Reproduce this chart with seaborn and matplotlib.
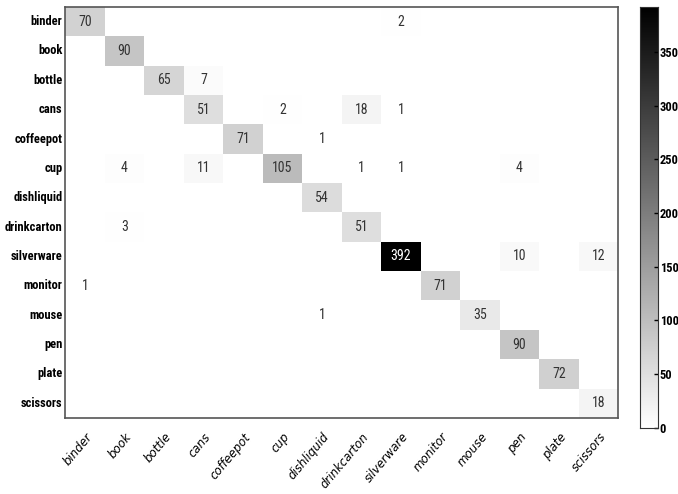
import numpy as np
import pandas as pd
import matplotlib
matplotlib.use("Agg")
import matplotlib.pyplot as plt
from matplotlib import font_manager
import seaborn as sns

classes = ["binder", "book", "bottle", "cans", "coffeepot", "cup", "dishliquid",
           "drinkcarton", "silverware", "monitor", "mouse", "pen", "plate", "scissors"]

# confusion matrix rows (true class), columns (predicted class)
row_binder      = [70, 0, 0, 0, 0, 0, 0, 0, 2, 0, 0, 0, 0, 0]
row_book        = [0, 90, 0, 0, 0, 0, 0, 0, 0, 0, 0, 0, 0, 0]
row_bottle      = [0, 0, 65, 7, 0, 0, 0, 0, 0, 0, 0, 0, 0, 0]
row_cans        = [0, 0, 0, 51, 0, 2, 0, 18, 1, 0, 0, 0, 0, 0]
row_coffeepot   = [0, 0, 0, 0, 71, 0, 1, 0, 0, 0, 0, 0, 0, 0]
row_cup         = [0, 4, 0, 11, 0, 105, 0, 1, 1, 0, 0, 4, 0, 0]
row_dishliquid  = [0, 0, 0, 0, 0, 0, 54, 0, 0, 0, 0, 0, 0, 0]
row_drinkcarton = [0, 3, 0, 0, 0, 0, 0, 51, 0, 0, 0, 0, 0, 0]
row_silverware  = [0, 0, 0, 0, 0, 0, 0, 0, 392, 0, 0, 10, 0, 12]
row_monitor     = [1, 0, 0, 0, 0, 0, 0, 0, 0, 71, 0, 0, 0, 0]
row_mouse       = [0, 0, 0, 0, 0, 0, 1, 0, 0, 0, 35, 0, 0, 0]
row_pen         = [0, 0, 0, 0, 0, 0, 0, 0, 0, 0, 0, 90, 0, 0]
row_plate       = [0, 0, 0, 0, 0, 0, 0, 0, 0, 0, 0, 0, 72, 0]
row_scissors    = [0, 0, 0, 0, 0, 0, 0, 0, 0, 0, 0, 0, 0, 18]

cm = pd.DataFrame([row_binder, row_book, row_bottle, row_cans, row_coffeepot, row_cup,
                   row_dishliquid, row_drinkcarton, row_silverware, row_monitor,
                   row_mouse, row_pen, row_plate, row_scissors],
                  index=classes, columns=classes)

# blank out the zero cells in the annotations
labels = cm.astype(str).where(cm > 0, "")

# pick a condensed font if one is around
installed = {f.name for f in font_manager.fontManager.ttflist}
narrow_font = "Liberation Sans"
for name in ["Liberation Sans Narrow", "Roboto Condensed", "DejaVu Sans Condensed",
             "Open Sans Condensed", "Noto Sans Condensed"]:
    if name in installed:
        narrow_font = name
        break
narrow = [narrow_font, "DejaVu Sans"]

fig = plt.figure(figsize=(6.78, 4.94), dpi=100)
ax = fig.add_axes([0.096, 0.154, 0.816, 0.832])
cax = fig.add_axes([0.944, 0.134, 0.027, 0.852])

sns.heatmap(cm, cmap="gray_r", vmin=0, vmax=392, annot=labels, fmt="",
            annot_kws={"fontsize": 10, "family": narrow, "color": "#333333"},
            ax=ax, cbar_ax=cax, cbar=True)

# white text on the darkest cell
for t in ax.texts:
    if t.get_text() == "392":
        t.set_color("white")

ax.tick_params(length=0)
ax.set_yticklabels(classes, rotation=0, fontsize=9, fontweight="bold", family=narrow)
ax.set_xticklabels(classes, rotation=50, ha="right", rotation_mode="anchor", fontsize=8.5)
for lab in ax.get_xticklabels():
    lab.set_family("DejaVu Sans")
    lab.set_style("italic")
ax.tick_params(axis="x", pad=9)
ax.tick_params(axis="y", pad=2)
for s in ax.spines.values():
    s.set_visible(True)
    s.set_color("#555555")
    s.set_linewidth(1.2)

cax.set_yticks([0, 50, 100, 150, 200, 250, 300, 350])
cax.tick_params(labelsize=9, length=3, width=1, pad=1, direction="in")
for lab in cax.get_yticklabels():
    lab.set_fontweight("bold")
    lab.set_family(narrow)
for s in cax.spines.values():
    s.set_visible(True)
    s.set_color("#333333")

fig.savefig("out.png", dpi=100)
